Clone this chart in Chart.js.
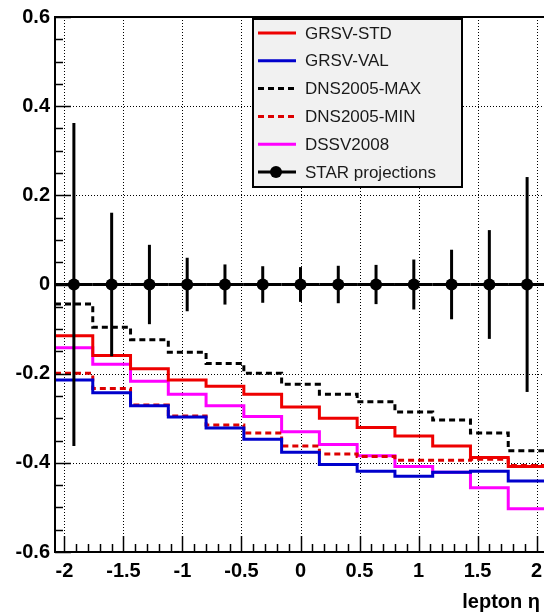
<!DOCTYPE html>
<html>
<head>
<meta charset="utf-8">
<script src="https://cdn.jsdelivr.net/npm/chart.js@4.4.1/dist/chart.umd.min.js"></script>
<style>
html, body { margin: 0; padding: 0; background: #fff; overflow: hidden; }
#wrap { width: 552px; height: 616px; }
</style>
</head>
<body>
<div id="wrap"><canvas id="asym" width="552" height="616"></canvas></div>
<script>
// bin edges in lepton eta (13 bins)
const binEdges = [-2.08, -1.76, -1.44, -1.12, -0.8, -0.48, -0.16, 0.16, 0.48, 0.8, 1.12, 1.44, 1.76, 2.08];

const grsvStd = [-0.115, -0.159, -0.189, -0.214, -0.228, -0.246, -0.275, -0.300, -0.321, -0.340, -0.362, -0.388, -0.408];
const grsvVal = [-0.214, -0.243, -0.272, -0.297, -0.322, -0.347, -0.376, -0.404, -0.419, -0.430, -0.421, -0.419, -0.441];
const dnsMax = [-0.044, -0.096, -0.124, -0.152, -0.177, -0.199, -0.224, -0.246, -0.263, -0.286, -0.304, -0.333, -0.373];
const dnsMin = [-0.199, -0.233, -0.270, -0.295, -0.315, -0.333, -0.362, -0.380, -0.386, -0.394, -0.394, -0.392, -0.406];
const dssv = [-0.142, -0.179, -0.217, -0.246, -0.272, -0.296, -0.330, -0.359, -0.384, -0.408, -0.421, -0.456, -0.503];

// STAR projected points
const starEta = [-1.92, -1.6, -1.28, -0.96, -0.64, -0.32, 0, 0.32, 0.64, 0.96, 1.28, 1.6, 1.92];
const starVal = [0, 0, 0, 0, 0, 0, 0, 0, 0, 0, 0, 0, 0];
const starErr = [0.362, 0.161, 0.089, 0.060, 0.045, 0.041, 0.039, 0.042, 0.044, 0.056, 0.078, 0.122, 0.241];

const xTicks = [-2, -1.5, -1, -0.5, 0, 0.5, 1, 1.5, 2];
const yTicks = [-0.6, -0.4, -0.2, 0, 0.2, 0.4, 0.6];
const xMinorStep = 0.1;
const yMinorStep = 0.05;

// histogram -> step points at bin edges
const toSteps = (vals) => binEdges.map((e, i) => ({ x: e, y: vals[Math.min(i, vals.length - 1)] }));

const stepSet = (label, vals, color, dash) => ({
    label,
    data: toSteps(vals),
    borderColor: color,
    backgroundColor: color,
    borderWidth: 3,
    borderDash: dash,
    stepped: true,
    pointRadius: 0,
    fill: false
});

const drawLine = (ctx, x1, y1, x2, y2) => {
    ctx.beginPath();
    ctx.moveTo(x1, y1);
    ctx.lineTo(x2, y2);
    ctx.stroke();
};

// ROOT-like frame, dotted grid, inner ticks, legend box
const rootFrame = {
    id: 'rootFrame',
    beforeDatasetsDraw(chart) {
        const { ctx, chartArea: a, scales: { x, y } } = chart;
        ctx.save();
        ctx.strokeStyle = '#000';
        ctx.lineWidth = 1;
        ctx.setLineDash([1, 2]);
        xTicks.forEach(v => {
            const px = Math.round(x.getPixelForValue(v)) + 0.5;
            drawLine(ctx, px, a.top, px, a.bottom);
        });
        yTicks.forEach(v => {
            const py = Math.round(y.getPixelForValue(v)) + 0.5;
            drawLine(ctx, a.left, py, a.right, py);
        });
        ctx.restore();
    },
    afterDatasetsDraw(chart) {
        const { ctx, scales: { x, y } } = chart;
        ctx.save();
        ctx.strokeStyle = '#000';
        ctx.lineWidth = 3;
        starEta.forEach((eta, i) => {
            const py = y.getPixelForValue(starVal[i]);
            drawLine(ctx, x.getPixelForValue(binEdges[i]), py, x.getPixelForValue(binEdges[i + 1]), py);
            const px = x.getPixelForValue(eta);
            drawLine(ctx, px, y.getPixelForValue(starVal[i] + starErr[i]), px, y.getPixelForValue(starVal[i] - starErr[i]));
        });
        ctx.restore();
    },
    afterDraw(chart) {
        const { ctx, chartArea: a, scales: { x, y } } = chart;
        ctx.save();
        ctx.strokeStyle = '#000';
        ctx.lineWidth = 2;
        ctx.strokeRect(a.left, a.top, a.right - a.left, a.bottom - a.top);

        // ticks
        ctx.lineWidth = 1.5;
        for (let v = -2; v <= 2.0001; v += xMinorStep) {
            const major = Math.abs(v * 2 - Math.round(v * 2)) < 1e-6;
            const px = Math.round(x.getPixelForValue(v)) + 0.5;
            drawLine(ctx, px, a.bottom, px, a.bottom - (major ? 16 : 8));
        }
        for (let v = -0.6; v <= 0.6001; v += yMinorStep) {
            const major = Math.abs(v * 5 - Math.round(v * 5)) < 1e-6;
            const py = Math.round(y.getPixelForValue(v)) + 0.5;
            drawLine(ctx, a.left, py, a.left + (major ? 16 : 8), py);
        }

        // axis title
        ctx.fillStyle = '#000';
        ctx.font = 'bold 20px "Liberation Sans", Arial, sans-serif';
        ctx.textAlign = 'right';
        ctx.textBaseline = 'alphabetic';
        ctx.fillText('lepton \u03b7', 540, 608);

        // legend
        const lx = 253, ly = 19, lw = 209, lh = 168;
        ctx.fillStyle = '#f1f1f1';
        ctx.fillRect(lx, ly, lw, lh);
        ctx.lineWidth = 2;
        ctx.strokeRect(lx, ly, lw, lh);
        ctx.font = '17px "Liberation Sans", Arial, sans-serif';
        ctx.textAlign = 'left';
        ctx.textBaseline = 'middle';
        chart.data.datasets.forEach((ds, i) => {
            const cy = ly + 14 + i * 27.8;
            ctx.save();
            ctx.strokeStyle = ds.borderColor;
            ctx.lineWidth = 3;
            ctx.setLineDash(ds.borderDash || []);
            drawLine(ctx, 258, cy, 296, cy);
            ctx.restore();
            if (ds.showLine === false) {
                ctx.beginPath();
                ctx.fillStyle = '#000';
                ctx.arc(276, cy, 6, 0, Math.PI * 2);
                ctx.fill();
            }
            ctx.fillStyle = '#1a1a1a';
            ctx.fillText(ds.label, 305, cy + 1);
        });
        ctx.restore();
    }
};

new Chart(document.getElementById('asym'), {
    type: 'line',
    data: {
        datasets: [
            stepSet('GRSV-STD', grsvStd, '#ee0000', []),
            stepSet('GRSV-VAL', grsvVal, '#0000cc', []),
            stepSet('DNS2005-MAX', dnsMax, '#000000', [6, 4]),
            stepSet('DNS2005-MIN', dnsMin, '#dd0000', [6, 4]),
            stepSet('DSSV2008', dssv, '#ff00ff', []),
            {
                label: 'STAR projections',
                data: starEta.map((e, i) => ({ x: e, y: starVal[i] })),
                showLine: false,
                borderColor: '#000',
                backgroundColor: '#000',
                pointRadius: 6,
                pointHoverRadius: 6,
                borderWidth: 0,
                order: -1
            }
        ]
    },
    options: {
        responsive: false,
        animation: false,
        events: [],
        layout: { padding: { left: 0, right: 5, top: 14, bottom: 0 } },
        plugins: { legend: { display: false }, tooltip: { enabled: false } },
        scales: {
            x: {
                type: 'linear',
                min: -2.08,
                max: 2.08,
                afterBuildTicks: (s) => { s.ticks = xTicks.map(v => ({ value: v })); },
                afterFit: (s) => { s.height = 64; },
                grid: { display: false, drawTicks: false },
                border: { display: false },
                ticks: {
                    color: '#000',
                    padding: 7,
                    maxRotation: 0,
                    font: { family: '"Liberation Sans", Arial, sans-serif', size: 20, weight: 'bold' },
                    callback: (v) => String(v)
                }
            },
            y: {
                type: 'linear',
                min: -0.6,
                max: 0.6,
                afterBuildTicks: (s) => { s.ticks = yTicks.map(v => ({ value: v })); },
                afterFit: (s) => { s.width = 55; },
                grid: { display: false, drawTicks: false },
                border: { display: false },
                ticks: {
                    color: '#000',
                    padding: 5,
                    font: { family: '"Liberation Sans", Arial, sans-serif', size: 20, weight: 'bold' },
                    callback: (v) => v === 0 ? '0' : v.toFixed(1)
                }
            }
        }
    },
    plugins: [rootFrame]
});
</script>
</body>
</html>
